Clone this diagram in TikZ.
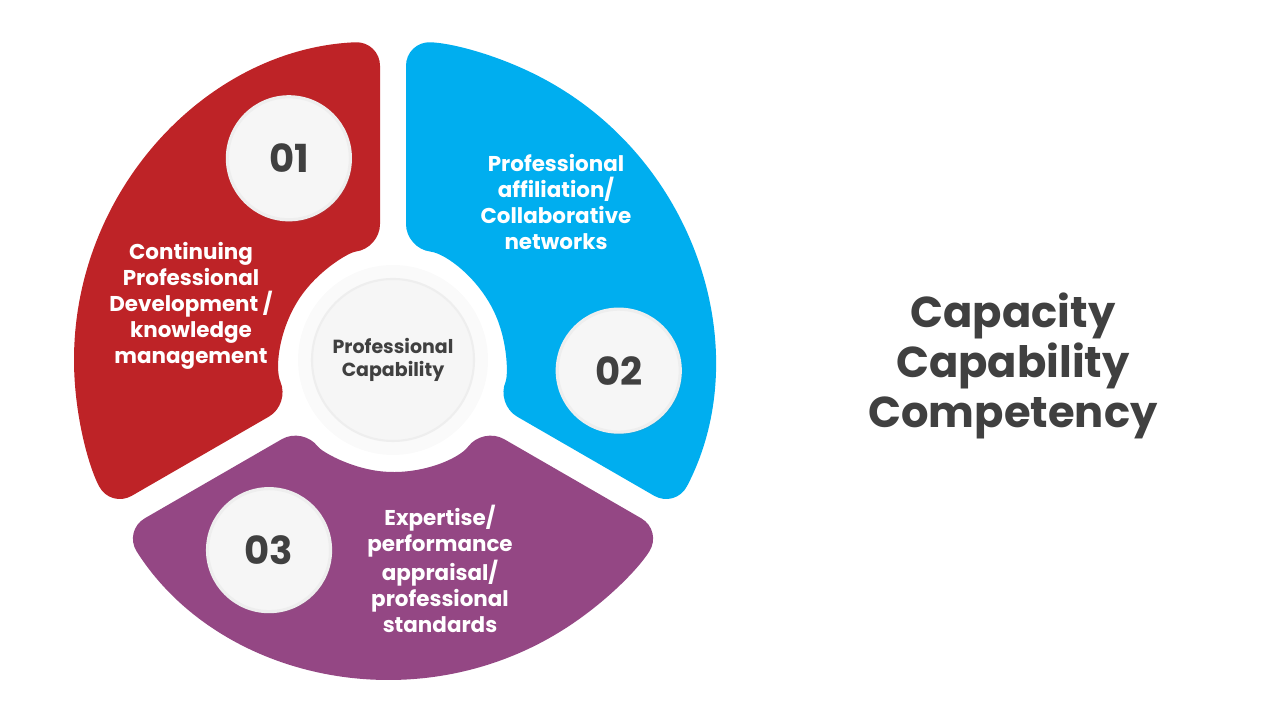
\documentclass[tikz,border=0pt]{standalone}
\usepackage{fontspec}
\setmainfont{Poppins}
\usetikzlibrary{shadows}

\definecolor{segred}{HTML}{BE2327}
\definecolor{segblue}{HTML}{00AEEF}
\definecolor{segpurple}{HTML}{944784}
\definecolor{inkgray}{HTML}{404040}
\definecolor{discgray}{HTML}{F6F6F6}
\definecolor{rimgray}{HTML}{EEEEEE}

\tikzset{
  numdisc/.style={circle, minimum size=1.23cm, inner sep=0pt, fill=discgray,
    draw=rimgray, line width=0.9pt, text=inkgray,
    font={\fontsize{11}{13}\selectfont\bfseries},
    drop shadow={opacity=0.10, shadow xshift=0.5pt, shadow yshift=-0.7pt}},
  hubdisc/.style={circle, minimum size=1.62cm, inner sep=0pt, fill=discgray,
    draw=rimgray, line width=0.6pt, text=inkgray, align=center,
    font={\fontsize{5.4}{6.3}\selectfont\bfseries}},
  segtext/.style={text=white, align=center,
    font={\fontsize{6.1}{7.4}\selectfont\bfseries}},
  titletext/.style={text=inkgray, align=center,
    font={\fontsize{12.3}{14.2}\selectfont\bfseries}}
}

\begin{document}
\begin{tikzpicture}
\useasboundingbox (0,0) rectangle (12.8,7.2);

\begin{scope}[shift={(3.93,3.60)}]
% Ring segments
\pgfmathsetmacro{\Rout}{3.19}
\pgfmathsetmacro{\Rin}{1.12}
\pgfmathsetmacro{\dout}{asin(0.13/\Rout)}
\pgfmathsetmacro{\din}{asin(0.13/\Rin)}
\foreach \a/\b/\c in {90/210/segred, -30/90/segblue, 210/330/segpurple} {
    \pgfmathsetmacro{\sa}{\a+\dout}
    \pgfmathsetmacro{\sb}{\b-\dout}
    \pgfmathsetmacro{\ta}{\a+\din}
    \pgfmathsetmacro{\tb}{\b-\din}
    \fill[\c, rounded corners=7pt] (\sa:\Rout) arc[start angle=\sa, end angle=\sb, radius=\Rout]
        -- (\tb:\Rin) arc[start angle=\tb, end angle=\ta, radius=\Rin] -- cycle;
}

% Centre
\fill[discgray!50] (0,0) circle (0.95);
\node[hubdisc] (hub) at (0,0) {Professional\\Capability};

% Numbers
\node[numdisc] (n1) at (117.3:2.27) {01};
\node[numdisc] (n2) at (-2.7:2.26) {02};
\node[numdisc] (n3) at (236.9:2.27) {03};
\end{scope}

% Segment texts
\node[segtext] (t1) at (1.91,4.14) {Continuing\\Professional\\Development /\\knowledge\\management};
\node[segtext] (t2) at (5.56,5.18) {Professional\\affiliation/\\Collaborative\\networks};
\node[segtext] (t3) at (4.40,1.51) {Expertise/\\performance\\appraisal/\\professional\\standards};

% Title
\node[titletext] (title) at (10.13,3.54) {Capacity\\Capability\\Competency};

\end{tikzpicture}
\end{document}
